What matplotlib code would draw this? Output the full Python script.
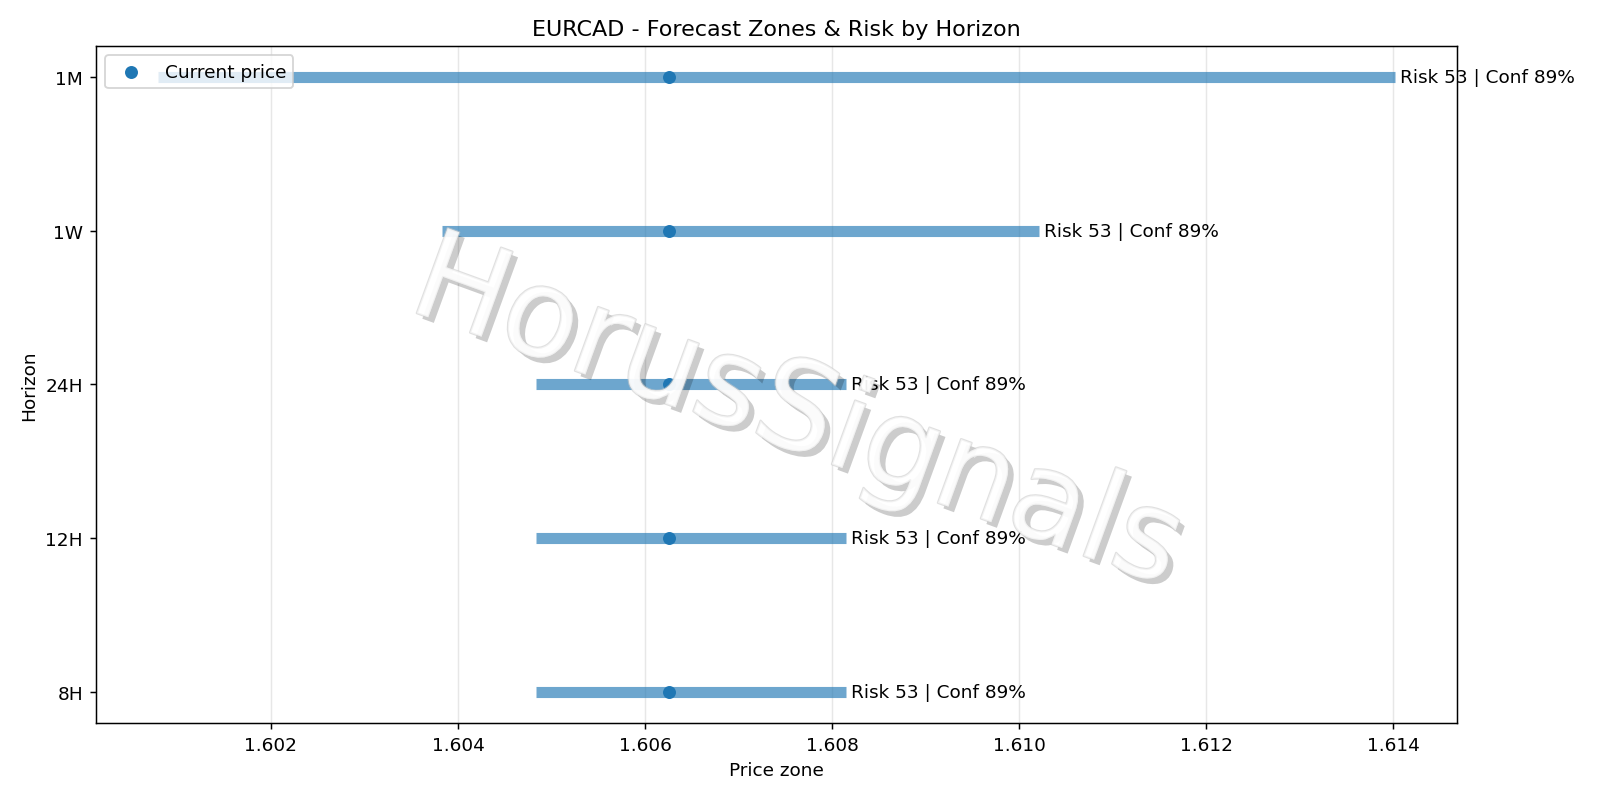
import matplotlib.pyplot as plt
import matplotlib.patheffects as pe

horizons = ["8H", "12H", "24H", "1W", "1M"]
zone_low = [1.60483, 1.60483, 1.60483, 1.60383, 1.60079]
zone_high = [1.60815, 1.60815, 1.60815, 1.61021, 1.61402]
current_price = 1.60626
risk = [53, 53, 53, 53, 53]
conf = [89, 89, 89, 89, 89]

fig, ax = plt.subplots(figsize=(12, 6), dpi=133.33)
ys = list(range(len(horizons)))
ax.hlines(ys, zone_low, zone_high, linewidth=6, color="#1f77b4", alpha=0.65)
ax.scatter([current_price] * len(ys), ys, color="#1f77b4", zorder=3, label="Current price")
for y, hi, r, c in zip(ys, zone_high, risk, conf):
    ax.text(hi + 0.00005, y, f"Risk {r} | Conf {c}%", va="center", fontsize=10)
ax.set_yticks(ys)
ax.set_yticklabels(horizons)
ax.set_ylim(-0.2, 4.2)
ax.set_xlim(1.60013, 1.61468)
ax.grid(axis="x", alpha=0.3)
ax.set_xlabel("Price zone")
ax.set_ylabel("Horizon")
ax.set_title("EURCAD - Forecast Zones & Risk by Horizon")
ax.legend(loc="upper left")
ax.text(0.515, 0.455, "HorusSignals", transform=ax.transAxes, fontsize=67, rotation=-20,
        ha="center", va="center", color="white", alpha=0.6, zorder=5,
        path_effects=[pe.withSimplePatchShadow(offset=(3, -3), shadow_rgbFace="black", alpha=0.2),
                      pe.withStroke(linewidth=1.2, foreground="#cccccc")])
plt.tight_layout()
plt.savefig("out.png")
